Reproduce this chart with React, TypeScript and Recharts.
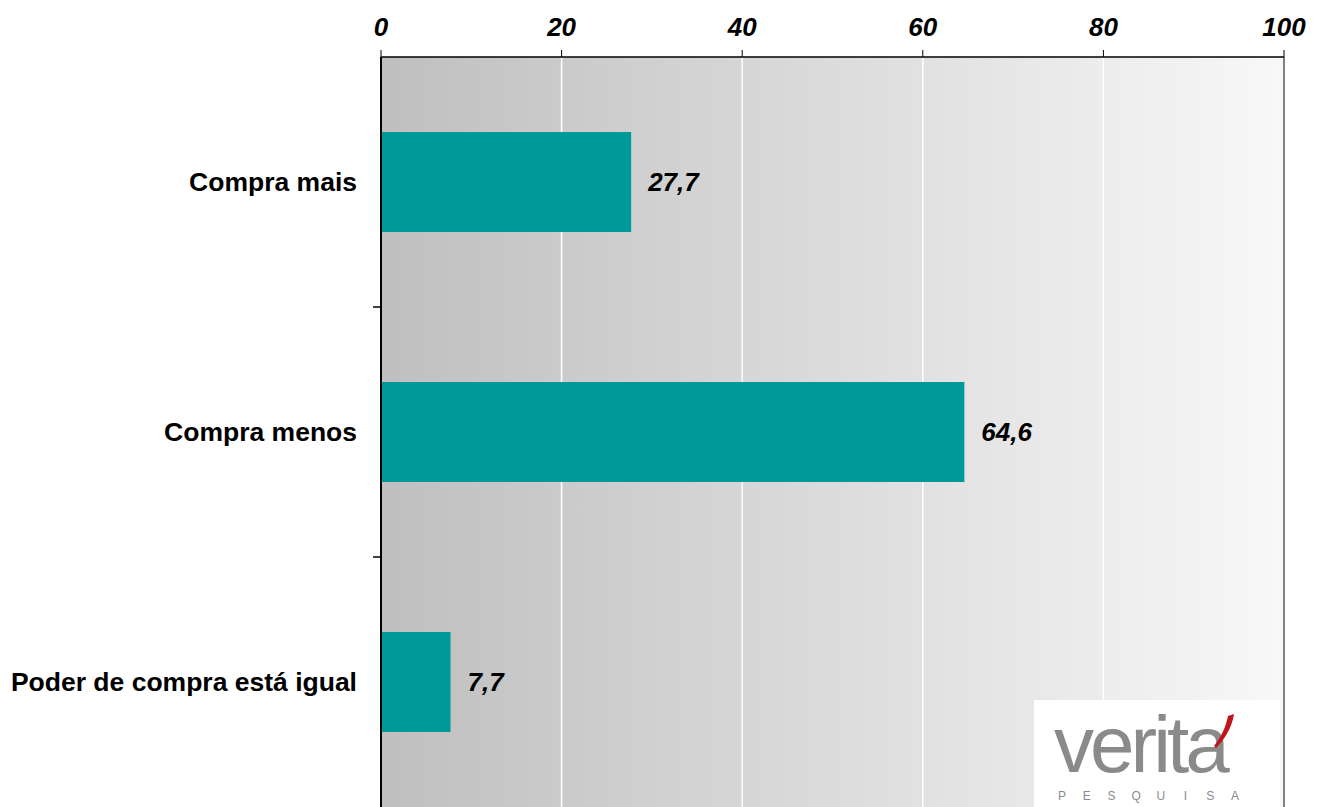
import React from 'react';
import { BarChart, Bar, XAxis, YAxis, CartesianGrid, LabelList, ReferenceLine } from 'recharts';

const categories = ['Compra mais', 'Compra menos', 'Poder de compra está igual'];
const values = [27.7, 64.6, 7.7];
const xTicks = [0, 20, 40, 60, 80, 100];

const data = categories.map((name, i) => ({ name, value: values[i] }));

const W = 1325;
const H = 807;
const TOP = 57;
const BAND = (H - TOP) / categories.length;
const FONT = "Arial, 'Liberation Sans', sans-serif";

const CategoryTick = (props: any) => {
  const { x, y, payload, index } = props;
  const axisX = x + 24;
  return (
    <g>
      <text x={x} y={y} dy={9} textAnchor="end" fontFamily={FONT} fontWeight="bold" fontSize={26.5} fill="#000">
        {payload.value}
      </text>
      {index < categories.length - 1 && (
        <line x1={axisX - 8} x2={axisX} y1={y + BAND / 2} y2={y + BAND / 2} stroke="#000" strokeWidth={1.5} />
      )}
    </g>
  );
};

const Logo = () => (
  <svg style={{ position: 'absolute', left: 1034, top: 700 }} width={246} height={107}>
    <rect x={0} y={0} width={246} height={107} fill="#fff" />
    <text x={20} y={72} fontFamily={FONT} fontSize={80} letterSpacing={-4} fill="#8a8a8a">
      verita
    </text>
    <path d="M180 46 C188 36 192 26 194 16 L200 14 C198 28 190 40 182 48 Z" fill="#c0141c" />
    {'PESQUISA'.split('').map((c, i) => (
      <text key={i} x={28 + i * 24.7} y={100} fontFamily={FONT} fontSize={12} fill="#8a8a8a" textAnchor="middle">
        {c}
      </text>
    ))}
  </svg>
);

export default function App() {
  return (
    <div style={{ position: 'absolute', left: 0, top: 0, width: W, height: H, overflow: 'hidden', background: '#fff' }}>
      <BarChart
        width={W}
        height={H}
        data={data}
        layout="vertical"
        margin={{ top: 0, right: 41, bottom: 0, left: 0 }}
        barSize={100}
      >
        <defs>
          <linearGradient id="bg" x1="0" y1="0" x2="1" y2="0">
            <stop offset="0%" stopColor="#bfbfbf" />
            <stop offset="100%" stopColor="#f8f8f8" />
          </linearGradient>
        </defs>
        <CartesianGrid horizontal={false} stroke="#ffffff" strokeWidth={1.5} fill="url(#bg)" fillOpacity={1} />
        <XAxis
          type="number"
          orientation="top"
          domain={[0, 100]}
          ticks={xTicks}
          height={TOP}
          tickSize={7}
          tickMargin={14}
          axisLine={{ stroke: '#000', strokeWidth: 1.5 }}
          tickLine={{ stroke: '#000' }}
          tick={{ fill: '#000', fontSize: 26, fontWeight: 'bold', fontStyle: 'italic', fontFamily: FONT }}
        />
        <YAxis
          type="category"
          dataKey="name"
          width={381}
          tickLine={false}
          tickSize={8}
          tickMargin={16}
          axisLine={{ stroke: '#000', strokeWidth: 2 }}
          tick={<CategoryTick />}
        />
        <ReferenceLine x={100} stroke="#808080" strokeWidth={2} />
        <Bar dataKey="value" fill="#009999" isAnimationActive={false}>
          <LabelList
            dataKey="value"
            position="right"
            offset={17}
            formatter={(v: any) => String(v).replace('.', ',')}
            style={{ fill: '#000', fontSize: 26, fontWeight: 'bold', fontStyle: 'italic', fontFamily: FONT }}
          />
        </Bar>
      </BarChart>
      <Logo />
    </div>
  );
}
